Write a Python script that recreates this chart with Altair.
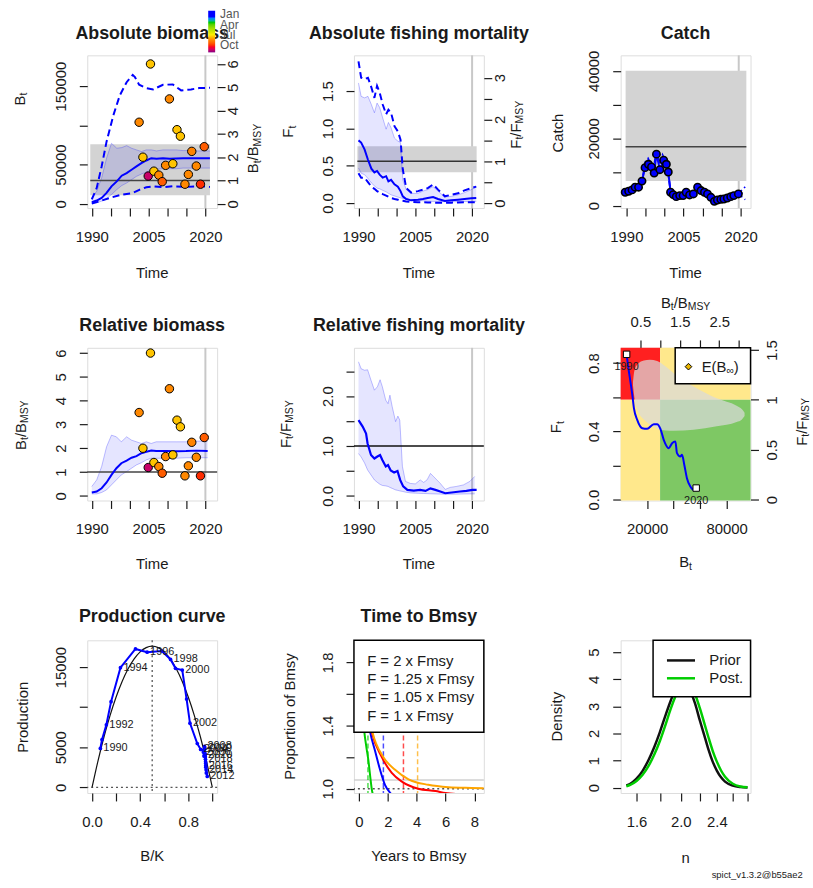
import altair as alt
import pandas as pd

FONT = "Liberation Sans"
TXT = "#1a1a1a"
W, H = 131, 154
BMSY = 29700
FMSY = 0.56

# ---------------- data ----------------
# Panel 1: absolute biomass (estimate, CI, wide dashed CI)
b_years = [1990, 1991.3, 1992.6, 1993.9, 1995.2, 1996.6, 1997.9, 1999.2, 2000.5, 2001.8, 2003.1,
           2004.4, 2005.7, 2007.1, 2008.8, 2010.6, 2012.3, 2014.1, 2015.8, 2017.6, 2019.3, 2021.2]
b_est = [2100, 4200, 7600, 13900, 22300, 28600, 35800, 39200, 43400, 47600, 51800,
         55200, 58100, 57300, 58100, 57300, 57700, 58100, 58100, 58100, 58100, 58100]
b_hi = [7600, 16000, 32900, 58100, 77100, 70800, 71600, 74100, 70800, 68700, 66600,
        68700, 68700, 67400, 68700, 68700, 68700, 67800, 67800, 67400, 67400, 67400]
b_lo = [840, 1260, 3400, 6700, 11800, 18100, 23200, 26500, 30800, 35000, 37900,
        40400, 43400, 44200, 44700, 44700, 44700, 45500, 45500, 45500, 45500, 45500]
bd_hi_years = [1990, 1991.3, 1992.6, 1993.9, 1995.7, 1997.4, 1999.2, 2000.8, 2001.4, 2002.5,
               2004.4, 2006.2, 2008.8, 2011.4, 2013.6, 2016.2, 2018.4, 2021.2]
bd_hi = [5500, 20200, 47600, 79200, 112900, 138200, 155000, 164300, 161400, 151700,
         147500, 145800, 151700, 152100, 144500, 145800, 147500, 147900]
bd_lo_years = [1990, 1992.2, 1994.8, 1997.4, 2000.9, 2002.7, 2004.4, 2006.2, 2008.8, 2011.4,
               2014.9, 2018.4, 2021.2]
bd_lo = [400, 3400, 7600, 11000, 13900, 18100, 21100, 22300, 21100, 22300, 21500, 22300, 21500]
bmsy_ci = [11000, 76000]

# Index observations (relative to Bmsy) and their season (fraction of year)
idx_t = [2002.5, 2003.5, 2004.9, 2005.5, 2006.4, 2007.7, 2008.6, 2009.5, 2010.5, 2011.4, 2012.5,
         2013.4, 2014.6, 2015.5, 2016.4, 2017.6, 2018.7, 2019.7]
idx_rel = [3.5, 2.0, 1.19, 6.0, 1.4, 1.23, 0.95, 1.65, 4.5, 1.72, 3.18,
           2.9, 0.84, 1.26, 2.25, 1.62, 0.84, 2.45]
idx_season = [0.62, 0.55, 0.87, 0.55, 0.55, 0.62, 0.7, 0.62, 0.62, 0.55, 0.55,
              0.55, 0.62, 0.62, 0.63, 0.62, 0.76, 0.7]

# Panel 2: absolute fishing mortality
f_years = [1990, 1990.7, 1991.6, 1992.5, 1993.4, 1994.2, 1994.9, 1995.6, 1996.4, 1997.3, 1997.9,
           1998.6, 1999.5, 2000.4, 2001.1, 2001.7, 2002.6, 2003.9, 2005.7, 2007.0, 2008.3, 2009.7,
           2011.0, 2012.8, 2014.5, 2016.3, 2018.0, 2019.8, 2021.1]
f_est = [0.84, 0.81, 0.72, 0.58, 0.46, 0.41, 0.43, 0.38, 0.34, 0.36, 0.29, 0.31, 0.25, 0.22, 0.16,
         0.09, 0.054, 0.036, 0.045, 0.054, 0.067, 0.08, 0.054, 0.027, 0.036, 0.045, 0.054, 0.063, 0.067]
f_hi = [1.61, 1.43, 1.41, 1.43, 1.32, 1.21, 1.34, 1.28, 1.14, 0.99, 1.08, 1.01, 0.87, 0.83, 0.81,
        0.31, 0.18, 0.13, 0.13, 0.16, 0.18, 0.22, 0.16, 0.08, 0.09, 0.11, 0.14, 0.18, 0.22]
f_lo = [0.47, 0.40, 0.38, 0.33, 0.27, 0.23, 0.2, 0.19, 0.17, 0.15, 0.13, 0.11, 0.095, 0.08, 0.07,
        0.06, 0.054, 0.045, 0.036, 0.03, 0.025, 0.022, 0.022, 0.018, 0.018, 0.018, 0.02, 0.022, 0.022]
fd_hi = [1.90, 1.68, 1.66, 1.68, 1.55, 1.41, 1.57, 1.48, 1.32, 1.19, 1.25, 1.21, 1.03, 0.96, 0.85,
         0.45, 0.2, 0.14, 0.16, 0.18, 0.2, 0.25, 0.18, 0.09, 0.11, 0.13, 0.17, 0.2, 0.22]
fd_lo = [0.40, 0.34, 0.34, 0.28, 0.22, 0.19, 0.16, 0.14, 0.12, 0.1, 0.085, 0.067, 0.055, 0.045, 0.035,
         0.03, 0.022, 0.015, 0.01, 0.01, 0.008, 0.005, 0.005, 0.005, 0.005, 0.008, 0.01, 0.01, 0.01]
fmsy_ci = [0.413, 0.762]

# Panel 3: catch
c_years = [1989.7, 1990.6, 1991.5, 1992.3, 1993.2, 1994.1, 1994.9, 1995.8, 1996.6, 1997.3, 1997.9,
           1998.8, 1999.8, 2000.5, 2001.0, 2001.6, 2002.3, 2003.1, 2004.0, 2004.9, 2005.7, 2006.6,
           2007.6, 2008.7, 2009.6, 2010.5, 2011.3, 2012.2, 2013.1, 2013.9, 2014.8, 2015.6, 2016.5,
           2017.4, 2018.2, 2019.4]
c_obs = [4000, 4300, 4700, 5500, 5500, 7300, 11300, 12300, 11500, 9700, 15300,
         10700, 13500, 12300, 10000, 4000, 3300, 2700, 3000, 3000, 4000, 3200,
         3500, 5500, 4500, 4000, 3500, 2500, 1300, 1700, 1900, 2000, 2300,
         2700, 3000, 3500]
cp_years = [1989.7, 1991.0, 1992.3, 1993.5, 1994.3, 1995.0, 1995.7, 1996.5, 1997.2, 1997.9, 1998.7,
            1999.5, 2000.3, 2001.0, 2001.6, 2002.5, 2004.0, 2005.7, 2007.0, 2008.7, 2010.5, 2012.0,
            2013.2, 2015.0, 2017.0, 2019.4, 2020.5]
c_pred = [3800, 4500, 5300, 6000, 8500, 13000, 14000, 12000, 11000, 16500, 12500,
          15000, 13000, 9500, 4500, 3000, 3000, 3800, 3500, 5200, 4000, 2800,
          1500, 2000, 2600, 3500, 3800]
cf_years = [2019.4, 2020.5, 2021.2]
cf_hi = [3600, 4800, 5600]
cf_lo = [3400, 2500, 1800]
msy = 17500
msy_ci = [7300, 40000]

# Panel 4: relative biomass
rb_years = [1990, 1991.3, 1992.6, 1993.9, 1995.2, 1996.5, 1997.8, 1999.2, 2000.5, 2001.8, 2003.1,
            2004.4, 2005.7, 2007.0, 2009.7, 2012.3, 2014.9, 2017.6, 2020.6]
rb_est = [0.14, 0.18, 0.32, 0.56, 0.88, 1.16, 1.37, 1.48, 1.6, 1.67, 1.79, 1.85, 1.9, 1.88, 1.88,
          1.87, 1.88, 1.9, 1.88]
rb_hi = [0.39, 0.67, 1.23, 2.06, 2.55, 2.48, 2.27, 2.48, 2.34, 2.27, 2.2, 2.27, 2.2, 2.27, 2.27,
         2.27, 2.27, 2.3, 2.3]
rb_lo = [0.08, 0.08, 0.14, 0.25, 0.46, 0.67, 0.88, 1.02, 1.16, 1.3, 1.39, 1.51, 1.58, 1.58, 1.58,
         1.58, 1.6, 1.6, 1.6]

# Panel 5: relative fishing mortality
rf_years = [1990, 1991.1, 1992, 1992.4, 1993.3, 1994.2, 1995, 1995.7, 1996.3, 1997.2, 1997.8, 1998.5,
            1999.4, 2000.3, 2001, 2001.8, 2002.9, 2004.6, 2006.3, 2007.7, 2009, 2010.3, 2011.6,
            2012.9, 2014.6, 2016.8, 2018.5, 2020.1, 2021.2]
rf_est = [1.52, 1.39, 1.25, 1.05, 0.82, 0.75, 0.79, 0.82, 0.72, 0.59, 0.62, 0.51, 0.47, 0.5, 0.32,
          0.19, 0.12, 0.107, 0.12, 0.1, 0.15, 0.12, 0.087, 0.053, 0.067, 0.087, 0.1, 0.12, 0.12]
rfc_years = [1990, 1990.7, 1991.6, 1992.4, 1993.3, 1994.2, 1995, 1995.7, 1996.3, 1997.2, 1997.8,
             1998.3, 1998.9, 1999.8, 2000.4, 2000.9, 2001.6, 2002.4, 2003.7, 2005, 2006.3, 2007.2,
             2008.1, 2009, 2009.8, 2010.7, 2011.6, 2012.9, 2014.2, 2015.9, 2017.7, 2019.4, 2020.7]
rf_hi = [2.69, 2.55, 2.52, 2.53, 2.32, 2.12, 2.19, 2.33, 2.19, 1.92, 1.85, 2.02, 1.79, 1.49, 1.6,
         1.52, 0.59, 0.29, 0.25, 0.24, 0.32, 0.27, 0.32, 0.45, 0.39, 0.32, 0.25, 0.13, 0.17, 0.19,
         0.22, 0.29, 0.39]
rf_lo = [0.85, 0.78, 0.66, 0.52, 0.42, 0.32, 0.27, 0.23, 0.21, 0.2, 0.19, 0.17, 0.15, 0.12, 0.11,
         0.1, 0.09, 0.075, 0.06, 0.055, 0.05, 0.048, 0.045, 0.042, 0.04, 0.038, 0.036, 0.033, 0.033,
         0.035, 0.038, 0.04, 0.04]

# Panel 6: Kobe plot
kb_B = [4500, 5500, 7000, 8800, 10000, 12500, 16300, 20000, 25000, 27500, 30000, 32500, 36300,
        38800, 41300, 42500, 45000, 46300, 48000, 50000, 52500, 55000, 57000]
kb_F = [0.852, 0.79, 0.711, 0.614, 0.536, 0.468, 0.419, 0.415, 0.442, 0.442, 0.415, 0.351, 0.302,
        0.331, 0.341, 0.273, 0.253, 0.263, 0.205, 0.126, 0.078, 0.058, 0.068]
kb_end_labels = ["1990", "2020"]
el_B = [9300, 10000, 11000, 13000, 17500, 22000, 27500, 34000, 40000, 55000, 72500, 87500, 91500, 93500]
el_hi = [0.69, 0.74, 0.77, 0.795, 0.815, 0.82, 0.813, 0.78, 0.741, 0.663, 0.594, 0.55, 0.53, 0.51]
el_lo = [0.67, 0.62, 0.57, 0.52, 0.47, 0.44, 0.415, 0.405, 0.404, 0.41, 0.43, 0.455, 0.47, 0.49]
KB_BMSY = 29750
KB_FMSY = 0.585

# Panel 7: production curve
pc_bk = [0, 0.05, 0.1, 0.15, 0.2, 0.25, 0.3, 0.35, 0.4, 0.45, 0.5, 0.55, 0.6, 0.65, 0.7, 0.75,
         0.8, 0.85, 0.9, 0.95, 1.0]
pc_p = [0, 3340, 6340, 8980, 11260, 13200, 14780, 16020, 16900, 17420, 17600, 17420, 16900, 16020,
        14780, 13200, 11260, 8980, 6340, 3340, 0]
pr_year = list(range(1990, 2021))
pr_bk = [0.069, 0.083, 0.119, 0.158, 0.236, 0.361, 0.458, 0.58, 0.653, 0.694, 0.75, 0.786, 0.814,
         0.875, 0.903, 0.93, 0.925, 0.93, 0.935, 0.94, 0.938, 0.945, 0.958, 0.95, 0.948, 0.946,
         0.945, 0.944, 0.943, 0.942, 0.94]
pr_p = [4860, 5970, 7810, 10690, 14920, 17260, 16850, 17000, 15950, 14840, 14630, 11020, 8010,
        5470, 4730, 4650, 4400, 3900, 5100, 4200, 4900, 3000, 1360, 1800, 2200, 2500, 2700, 3200,
        3500, 3800, 4000]

# Panel 8: time to Bmsy
tc_labels = ["F = 2 x Fmsy", "F = 1.25 x Fmsy", "F = 1.05 x Fmsy", "F = 1 x Fmsy"]
tc_green_t = [0, 0.2, 0.37, 0.5, 0.65, 0.8, 0.88, 1.0, 1.1]
tc_green = [1.9, 1.58, 1.36, 1.27, 1.18, 1.06, 1.0, 0.95, 0.92]
tc_blue_t = [0, 0.4, 0.77, 1.11, 1.46, 1.8, 2.2, 2.6]
tc_blue = [1.9, 1.58, 1.36, 1.24, 1.12, 1.025, 0.97, 0.94]
tc_red_t = [0, 0.45, 0.88, 1.58, 2.27, 2.97, 4.1, 5.3, 6.0, 7.0, 8.65]
tc_red = [1.9, 1.58, 1.36, 1.2, 1.1, 1.045, 1.0, 0.985, 0.973, 0.965, 0.96]
tc_orange_t = [0, 0.48, 0.93, 1.69, 2.5, 3.43, 4.8, 6.2, 7.8, 8.65]
tc_orange = [1.9, 1.58, 1.36, 1.2, 1.12, 1.06, 1.025, 1.01, 1.005, 1.003]
tc_vlines = [0.62, 1.69, 3.08, 4.06]

# Panel 9: prior / posterior of n
n_grid = [1.52, 1.55, 1.60, 1.65, 1.70, 1.75, 1.80, 1.85, 1.90, 1.95, 2.00, 2.05, 2.10, 2.15, 2.20,
          2.25, 2.30, 2.35, 2.40, 2.45, 2.50, 2.60, 2.70, 2.80]
n_prior = [0.08, 0.14, 0.33, 0.62, 1.02, 1.5, 2.05, 2.65, 3.2, 3.65, 3.9, 3.85, 3.55, 3.1, 2.5,
           1.95, 1.4, 0.95, 0.62, 0.38, 0.22, 0.07, 0.02, 0.005]
n_post = [0.05, 0.10, 0.24, 0.47, 0.80, 1.22, 1.72, 2.3, 2.9, 3.4, 3.8, 3.95, 3.8, 3.45, 2.95,
          2.4, 1.85, 1.35, 0.95, 0.63, 0.4, 0.14, 0.04, 0.01]

# ---------------- helpers ----------------
ONE = pd.DataFrame({"a": [0]})
CW = {'B': .667, 't': .278, '/': .278, 'M': .833, 'S': .667, 'Y': .667, 'F': .611, 'E': .667,
      '(': .333, ')': .333, '∞': .713, ' ': .278}


def tw(s, size):
    return sum(CW.get(c, .556) for c in s) * size


def rich(segs, cx, cy, size=15, angle=0, color=TXT, weight="normal", align="center"):
    if len(segs) == 1 and align == "center":
        return [alt.Chart(ONE).mark_text(text=segs[0][0], align="center", baseline="middle",
                                         angle=angle, font=FONT, fontSize=size, fontWeight=weight,
                                         color=color).encode(x=alt.value(cx), y=alt.value(cy))]
    sub = 0.7
    widths = [tw(t, size * (sub if s else 1)) for t, s in segs]
    pos = -sum(widths) / 2 if align == "center" else 0
    out = []
    for (t, s), w in zip(segs, widths):
        fs = size * (sub if s else 1)
        off = size * 0.3 if s else 0
        if angle == 0:
            x, y = cx + pos, cy + off
        else:
            x, y = cx + off, cy - pos
        out.append(alt.Chart(ONE).mark_text(text=t, align="left", baseline="middle", angle=angle,
                                            font=FONT, fontSize=fs, fontWeight=weight, color=color)
                   .encode(x=alt.value(x), y=alt.value(y)))
        pos += w
    return out


def title(t, cy=-21.5):
    return rich([(t, False)], W / 2, cy, size=18, weight="bold")


BT = [("B", False), ("t", True)]
BREL = [("B", False), ("t", True), ("/B", False), ("MSY", True)]
FT = [("F", False), ("t", True)]
FREL = [("F", False), ("t", True), ("/F", False), ("MSY", True)]


def lab_expr(pairs):
    parts = [f"abs(datum.value-({v}))<1e-6?'{l}'" for v, l in pairs]
    return ":".join(parts) + ":''"


def ax(orient, ticks, pairs, pad=None):
    d = dict(orient=orient, values=ticks, labelExpr=lab_expr(pairs), title=None, grid=False,
             domain=False, tickSize=8, tickWidth=1.2, tickColor=TXT, labelFont=FONT,
             labelFontSize=15, labelColor=TXT, labelOverlap=False, labelFlush=False, labelBound=False)
    if orient in ("left", "right"):
        d.update(labelAngle=270, labelAlign="center", labelBaseline="alphabetic",
                 labelPadding=pad if pad is not None else (14 if orient == "left" else 12.8))
    elif orient == "bottom":
        d.update(labelAngle=0, labelAlign="center", labelBaseline="top",
                 labelPadding=pad if pad is not None else 13.5)
    else:
        d.update(labelAngle=0, labelAlign="center", labelBaseline="alphabetic",
                 labelPadding=pad if pad is not None else 13.6)
    return alt.Axis(**d)


def sc(dom, **kw):
    return alt.Scale(domain=dom, nice=False, zero=False, **kw)


def D(**cols):
    return pd.DataFrame(cols)


TIME_TICKS = [1990, 1995, 2000, 2005, 2010, 2015, 2020]
TIME_AX = ax("bottom", TIME_TICKS, [(1990, "1990"), (2005, "2005"), (2020, "2020")])
XT = alt.X("x:Q", scale=sc([1988.8, 2023.1]), axis=TIME_AX)

BAND = "#d3d3d3"
CIFILL = "#0000ff"

# colour scale for season of index observations
SEASON_SCALE = alt.Scale(domain=[-0.93, -0.78, -0.62, -0.5, -0.2, -0.05, 0.09],
                         range=["#800080", "#ff0000", "#ff8800", "#ffee00", "#00cc00", "#0000ff", "#0000ff"])
SEASON_LEG = alt.Legend(orient="none", legendX=122, legendY=-45, direction="vertical", title=None,
                        gradientLength=42, gradientThickness=7, values=[0, -0.25, -0.5, -0.75],
                        labelExpr=lab_expr([(0, "Jan"), (-0.25, "Apr"), (-0.5, "Jul"), (-0.75, "Oct")]),
                        labelFont=FONT, labelFontSize=12, labelColor="#555", labelOffset=5,
                        gradientStrokeWidth=0, labelOverlap=False)
COLOR = alt.Color("mneg:Q", scale=SEASON_SCALE, legend=SEASON_LEG)


def idx_points(Y):
    return (alt.Chart(D(x=idx_t, y=idx_rel, m=idx_season))
            .transform_calculate(mneg="-datum.m")
            .mark_circle(size=72, stroke="black", strokeWidth=1, opacity=1)
            .encode(x=XT, y=Y, color=COLOR))


def vline(xv, color="#c8c8c8", X=XT, width=2):
    return alt.Chart(D(x=[xv])).mark_rule(color=color, strokeWidth=width).encode(x=X)


# ---------------- Panel 1: Absolute biomass ----------------
dom1 = [-5400, 189200]
Y1 = alt.Y("y:Q", scale=sc(dom1), axis=ax("left", [0, 50000, 100000, 150000],
                                          [(0, "0"), (50000, "50000"), (150000, "150000")]))
Y1R = alt.Y("y:Q", scale=sc([dom1[0] / BMSY, dom1[1] / BMSY]),
            axis=ax("right", [0, 1, 2, 3, 4, 5, 6], [(i, str(i)) for i in range(7)]))
p1_left = alt.layer(
    vline(2020),
    alt.Chart(D(x=[1989.6], x2=[2021.2], y=[bmsy_ci[0]], y2=[bmsy_ci[1]])).mark_rect(color=BAND)
    .encode(x=XT, x2="x2:Q", y=Y1, y2="y2:Q"),
    alt.Chart(D(x=b_years, y=b_lo, y2=b_hi)).mark_area(color=CIFILL, opacity=0.1)
    .encode(x=XT, y=Y1, y2="y2:Q"),
    alt.Chart(D(x=b_years, y=b_hi)).mark_line(color="#0000ff", opacity=0.25, strokeWidth=1).encode(x=XT, y=Y1),
    alt.Chart(D(x=b_years, y=b_lo)).mark_line(color="#0000ff", opacity=0.25, strokeWidth=1).encode(x=XT, y=Y1),
    alt.Chart(D(x=[1989.6, 2021.2], y=[BMSY, BMSY])).mark_line(color="#444", strokeWidth=1.6).encode(x=XT, y=Y1),
    alt.Chart(D(x=bd_hi_years, y=bd_hi)).mark_line(color="#0000ff", strokeWidth=2, strokeDash=[7, 4]).encode(x=XT, y=Y1),
    alt.Chart(D(x=bd_lo_years, y=bd_lo)).mark_line(color="#0000ff", strokeWidth=2, strokeDash=[7, 4]).encode(x=XT, y=Y1),
    alt.Chart(D(x=b_years, y=b_est)).mark_line(color="#0000ff", strokeWidth=2).encode(x=XT, y=Y1),
)
p1_right = alt.layer(idx_points(Y1R))
p1 = alt.layer(p1_left, p1_right, *title("Absolute biomass"),
               *rich(BT, -68, 44, angle=270), *rich(BREL, W + 36.7, 94, angle=270),
               *rich([("Time", False)], W / 2, 220)
               ).resolve_scale(y="independent").properties(width=W, height=H)

# ---------------- Panel 2: Absolute fishing mortality ----------------
dom2 = [-0.067, 1.98]
Y2 = alt.Y("y:Q", scale=sc(dom2), axis=ax("left", [0, 0.5, 1, 1.5],
                                          [(0, "0.0"), (0.5, "0.5"), (1, "1.0"), (1.5, "1.5")]))
Y2R = alt.Y("y:Q", scale=sc([dom2[0] / FMSY, dom2[1] / FMSY]),
            axis=ax("right", [0, 0.5, 1, 1.5, 2, 2.5, 3], [(0, "0"), (1, "1"), (2, "2"), (3, "3")]))
p2_left = alt.layer(
    vline(2020),
    alt.Chart(D(x=[1989.7], x2=[2021.2], y=[fmsy_ci[0]], y2=[fmsy_ci[1]])).mark_rect(color=BAND)
    .encode(x=XT, x2="x2:Q", y=Y2, y2="y2:Q"),
    alt.Chart(D(x=f_years, y=f_lo, y2=f_hi)).mark_area(color=CIFILL, opacity=0.1).encode(x=XT, y=Y2, y2="y2:Q"),
    alt.Chart(D(x=f_years, y=f_hi)).mark_line(color="#0000ff", opacity=0.25, strokeWidth=1).encode(x=XT, y=Y2),
    alt.Chart(D(x=f_years, y=f_lo)).mark_line(color="#0000ff", opacity=0.25, strokeWidth=1).encode(x=XT, y=Y2),
    alt.Chart(D(x=[1989.7, 2021.2], y=[FMSY, FMSY])).mark_line(color="#333", strokeWidth=1.6).encode(x=XT, y=Y2),
    alt.Chart(D(x=f_years, y=fd_hi)).mark_line(color="#0000ff", strokeWidth=2, strokeDash=[7, 4]).encode(x=XT, y=Y2),
    alt.Chart(D(x=f_years, y=fd_lo)).mark_line(color="#0000ff", strokeWidth=2, strokeDash=[7, 4]).encode(x=XT, y=Y2),
    alt.Chart(D(x=f_years, y=f_est)).mark_line(color="#0000ff", strokeWidth=2).encode(x=XT, y=Y2),
)
p2_right = alt.Chart(D(x=[2000], y=[0])).mark_point(opacity=0).encode(x=XT, y=Y2R)
p2 = alt.layer(p2_left, p2_right, *title("Absolute fishing mortality"),
               *rich(FT, -66, 77, angle=270), *rich(FREL, W + 32.3, 70, angle=270),
               *rich([("Time", False)], W / 2, 220)
               ).resolve_scale(y="independent").properties(width=W, height=H)

# ---------------- Panel 3: Catch ----------------
XC = alt.X("x:Q", scale=sc([1988.5, 2022.6]), axis=TIME_AX)
Y3 = alt.Y("y:Q", scale=sc([-680, 44600]), axis=ax("left", [0, 10000, 20000, 30000, 40000],
                                                   [(0, "0"), (20000, "20000"), (40000, "40000")]))
p3 = alt.layer(
    vline(2019.5, X=XC),
    alt.Chart(D(x=[1989.8], x2=[2021.5], y=[msy_ci[0]], y2=[msy_ci[1]])).mark_rect(color=BAND)
    .encode(x=XC, x2="x2:Q", y=Y3, y2="y2:Q"),
    alt.Chart(D(x=[1989.8, 2021.5], y=[msy, msy])).mark_line(color="#444", strokeWidth=1.6).encode(x=XC, y=Y3),
    alt.Chart(D(x=cp_years, y=c_pred)).mark_line(color="#0000ff", strokeWidth=2, strokeDash=[6, 3]).encode(x=XC, y=Y3),
    alt.Chart(D(x=cf_years, y=cf_hi)).mark_line(color="#0000ff", strokeWidth=1.5, strokeDash=[5, 3]).encode(x=XC, y=Y3),
    alt.Chart(D(x=cf_years, y=cf_lo)).mark_line(color="#0000ff", strokeWidth=1.5, strokeDash=[5, 3]).encode(x=XC, y=Y3),
    alt.Chart(D(x=c_years, y=c_obs)).mark_line(color="#0000ff", strokeWidth=2).encode(x=XC, y=Y3),
    alt.Chart(D(x=c_years, y=c_obs)).mark_circle(size=55, color="#0000ff", stroke="black", strokeWidth=1.6, opacity=1)
    .encode(x=XC, y=Y3),
    *title("Catch"), *rich([("Catch", False)], -63.3, 78.4, angle=270),
    *rich([("Time", False)], W / 2, 220)
).properties(width=W, height=H)

# ---------------- Panel 4: Relative biomass ----------------
Y4 = alt.Y("y:Q", scale=sc([-0.197, 6.22]), axis=ax("left", [0, 1, 2, 3, 4, 5, 6], [(i, str(i)) for i in range(7)]))
p4 = alt.layer(
    vline(2020),
    alt.Chart(D(x=rb_years, y=rb_lo, y2=rb_hi)).mark_area(color=CIFILL, opacity=0.1).encode(x=XT, y=Y4, y2="y2:Q"),
    alt.Chart(D(x=rb_years, y=rb_hi)).mark_line(color="#0000ff", opacity=0.25, strokeWidth=1).encode(x=XT, y=Y4),
    alt.Chart(D(x=rb_years, y=rb_lo)).mark_line(color="#0000ff", opacity=0.25, strokeWidth=1).encode(x=XT, y=Y4),
    alt.Chart(D(y=[1])).mark_rule(color="#444", strokeWidth=1.6).encode(y=Y4),
    alt.Chart(D(x=rb_years, y=rb_est)).mark_line(color="#0000ff", strokeWidth=2).encode(x=XT, y=Y4),
    idx_points(Y4),
    *title("Relative biomass", -22), *rich(BREL, -66.8, 78, angle=270),
    *rich([("Time", False)], W / 2, 218)
).properties(width=W, height=H)

# ---------------- Panel 5: Relative fishing mortality ----------------
Y5 = alt.Y("y:Q", scale=sc([-0.093, 2.97]), axis=ax("left", [0, 0.5, 1, 1.5, 2, 2.5],
                                                    [(0, "0.0"), (1, "1.0"), (2, "2.0")]))
p5 = alt.layer(
    vline(2020),
    alt.Chart(D(x=rfc_years, y=rf_lo, y2=rf_hi)).mark_area(color=CIFILL, opacity=0.1).encode(x=XT, y=Y5, y2="y2:Q"),
    alt.Chart(D(x=rfc_years, y=rf_hi)).mark_line(color="#0000ff", opacity=0.25, strokeWidth=1).encode(x=XT, y=Y5),
    alt.Chart(D(x=rfc_years, y=rf_lo)).mark_line(color="#0000ff", opacity=0.25, strokeWidth=1).encode(x=XT, y=Y5),
    alt.Chart(D(y=[1])).mark_rule(color="#111", strokeWidth=1.4).encode(y=Y5),
    alt.Chart(D(x=rf_years, y=rf_est)).mark_line(color="#0000ff", strokeWidth=2.2).encode(x=XT, y=Y5),
    *title("Relative fishing mortality", -22), *rich(FREL, -68.5, 77, angle=270),
    *rich([("Time", False)], W / 2, 218)
).properties(width=W, height=H)

# ---------------- Panel 6: Kobe ----------------
kdx = [0, 98000]
kdy = [-0.005, 0.89]
X6 = alt.X("x:Q", scale=sc(kdx), axis=ax("bottom", [20000, 40000, 60000, 80000],
                                         [(20000, "20000"), (80000, "80000")]))
Y6 = alt.Y("y:Q", scale=sc(kdy), axis=ax("left", [0, 0.2, 0.4, 0.6, 0.8],
                                         [(0, "0.0"), (0.4, "0.4"), (0.8, "0.8")]))
X6T = alt.X("x:Q", scale=sc([kdx[0] / KB_BMSY, kdx[1] / KB_BMSY]),
            axis=ax("top", [0.5, 1, 1.5, 2, 2.5, 3], [(0.5, "0.5"), (1.5, "1.5"), (2.5, "2.5")]))
Y6R = alt.Y("y:Q", scale=sc([kdy[0] / KB_FMSY, kdy[1] / KB_FMSY]),
            axis=ax("right", [0, 0.5, 1, 1.5], [(0, "0"), (0.5, "0.5"), (1, "1"), (1.5, "1.5")], pad=18))
quad = D(x=[0, KB_BMSY, 0, KB_BMSY], x2=[KB_BMSY, kdx[1], KB_BMSY, kdx[1]],
         y=[KB_FMSY, KB_FMSY, kdy[0], kdy[0]], y2=[kdy[1], kdy[1], KB_FMSY, KB_FMSY],
         c=["#ff2020", "#ffe88c", "#ffe88c", "#7ec864"])
p6_left = alt.layer(
    alt.Chart(quad).mark_rect().encode(x=X6, x2="x2:Q", y=Y6, y2="y2:Q", color=alt.Color("c:N", scale=None)),
    alt.Chart(D(x=el_B, y=el_lo, y2=el_hi)).mark_area(color="#d9d9d9", opacity=0.72, interpolate="monotone")
    .encode(x=X6, y=Y6, y2="y2:Q"),
    alt.Chart(D(x=kb_B, y=kb_F, o=list(range(len(kb_B))))).mark_line(color="#0000ff", strokeWidth=2, interpolate="monotone")
    .encode(x=X6, y=Y6, order="o:Q"),
    alt.Chart(D(x=[kb_B[0], kb_B[-1]], y=[kb_F[0], kb_F[-1]])).mark_square(size=42, fill="white", stroke="black", strokeWidth=1, opacity=1)
    .encode(x=X6, y=Y6),
    alt.Chart(D(x=[kb_B[0], kb_B[-1]], y=[kb_F[0], kb_F[-1]], t=kb_end_labels)).mark_text(fontSize=11, font=FONT, color=TXT, dy=13)
    .encode(x=X6, y=Y6, text="t:N"),
)
p6_right = alt.Chart(D(x=[1], y=[0])).mark_point(opacity=0).encode(x=X6T, y=Y6R)
p6 = alt.layer(
    p6_left, p6_right,
    alt.Chart(ONE).mark_rect(fill="white", stroke="black", strokeWidth=1.5)
    .encode(x=alt.value(55), x2=alt.value(W), y=alt.value(0), y2=alt.value(36.3)),
    alt.Chart(ONE).mark_point(shape="diamond", filled=True, fill="#e8b400", stroke="black", strokeWidth=1, size=45, opacity=1)
    .encode(x=alt.value(68.4), y=alt.value(19)),
    *rich([("E(B", False), ("∞", True), (")", False)], 81.7, 19, align="left"),
    *rich(BREL, W / 2, -45.3), *rich(FT, -65, 80, angle=270),
    *rich(FREL, W + 51.7, 74.7, angle=270), *rich(BT, W / 2, 216.3)
).resolve_scale(x="independent", y="independent").properties(width=W, height=H)

# ---------------- Panel 7: Production curve ----------------
X7 = alt.X("x:Q", scale=sc([-0.04, 1.04]), axis=ax("bottom", [0, 0.2, 0.4, 0.6, 0.8, 1.0],
                                                   [(0, "0.0"), (0.4, "0.4"), (0.8, "0.8")]))
Y7 = alt.Y("y:Q", scale=sc([-700, 18335]), axis=ax("left", [0, 5000, 10000, 15000],
                                                   [(0, "0"), (5000, "5000"), (15000, "15000")]))
prod = D(x=pr_bk, y=pr_p, yr=pr_year)
p7 = alt.layer(
    alt.Chart(D(x=[0.5])).mark_rule(color="#555", strokeWidth=1.3, strokeDash=[2, 3]).encode(x=X7),
    alt.Chart(D(y=[0])).mark_rule(color="#555", strokeWidth=1.3, strokeDash=[2, 3]).encode(y=Y7),
    alt.Chart(D(x=pc_bk, y=pc_p)).mark_line(color="#111", strokeWidth=1.2, interpolate="monotone").encode(x=X7, y=Y7),
    alt.Chart(prod).mark_line(color="#0000ff", strokeWidth=2).encode(x=X7, y=Y7, order="yr:Q"),
    alt.Chart(prod).mark_circle(color="#0000ff", size=14, opacity=1).encode(x=X7, y=Y7),
    alt.Chart(prod).transform_filter("datum.yr % 2 == 0").mark_text(align="left", baseline="middle", dx=3,
                                                                    fontSize=11, font=FONT, color=TXT)
    .encode(x=X7, y=Y7, text="yr:N"),
    *title("Production curve", -23), *rich([("Production", False)], -64.8, 77.7, angle=270),
    *rich([("B/K", False)], W / 2, 217.7)
).properties(width=W, height=H)

# ---------------- Panel 8: Time to Bmsy ----------------
X8 = alt.X("x:Q", scale=sc([-0.35, 8.65]), axis=ax("bottom", [0, 2, 4, 6, 8], [(v, str(v)) for v in [0, 2, 4, 6, 8]]))
Y8 = alt.Y("y:Q", scale=sc([0.973, 1.94]), axis=ax("left", [1.0, 1.2, 1.4, 1.6, 1.8],
                                                   [(1.0, "1.0"), (1.4, "1.4"), (1.8, "1.8")]))
TC_COLS = ["#00cd00", "#0000ff", "#ff0000", "#ffa500"]
curves = [(tc_green_t, tc_green), (tc_blue_t, tc_blue), (tc_red_t, tc_red), (tc_orange_t, tc_orange)]
p8_layers = [
    alt.Chart(D(y=[1.056])).mark_rule(color="#d0d0d0", strokeWidth=1.5).encode(y=Y8),
    alt.Chart(D(y=[1.0])).mark_rule(color="#555", strokeWidth=1.3, strokeDash=[2, 3]).encode(y=Y8),
]
for xv, col in zip(tc_vlines, TC_COLS):
    p8_layers.append(alt.Chart(D(x=[xv])).mark_rule(color=col, strokeWidth=1.5, strokeDash=[5, 3], opacity=0.7).encode(x=X8))
for (tt, vv), col in zip(curves, TC_COLS):
    p8_layers.append(alt.Chart(D(x=tt, y=vv)).mark_line(color=col, strokeWidth=2, clip=True, interpolate="monotone")
                     .encode(x=X8, y=Y8))
p8_layers.append(alt.Chart(ONE).mark_rect(fill="white", stroke="black", strokeWidth=1.5)
                 .encode(x=alt.value(0), x2=alt.value(W), y=alt.value(0), y2=alt.value(92.7)))
for i, t in enumerate(tc_labels):
    p8_layers.append(alt.Chart(ONE).mark_text(text=t, align="left", baseline="middle", font=FONT, fontSize=15, color=TXT)
                     .encode(x=alt.value(13.3), y=alt.value(21 + i * 18.3)))
p8 = alt.layer(*p8_layers, *title("Time to Bmsy", -23),
               *rich([("Proportion of Bmsy", False)], -64.2, 76.8, angle=270),
               *rich([("Years to Bmsy", False)], W / 2, 217.7)).properties(width=W, height=H)

# ---------------- Panel 9: n prior / posterior ----------------
X9 = alt.X("x:Q", scale=sc([1.477, 2.843], type="log"),
           axis=ax("bottom", [1.6, 1.8, 2.0, 2.2, 2.4, 2.6, 2.8], [(1.6, "1.6"), (2.0, "2.0"), (2.4, "2.4")]))
Y9 = alt.Y("y:Q", scale=sc([-0.2, 5.44]), axis=ax("left", [0, 1, 2, 3, 4, 5], [(i, str(i)) for i in range(6)]))
p9 = alt.layer(
    alt.Chart(D(x=n_grid, y=n_prior)).mark_line(color="#111", strokeWidth=2.5, interpolate="monotone", clip=True).encode(x=X9, y=Y9),
    alt.Chart(D(x=n_grid, y=n_post)).mark_line(color="#00cd00", strokeWidth=2.5, interpolate="monotone", clip=True).encode(x=X9, y=Y9),
    alt.Chart(ONE).mark_rect(fill="white", stroke="black", strokeWidth=1.5)
    .encode(x=alt.value(32.7), x2=alt.value(W), y=alt.value(0), y2=alt.value(57)),
    alt.Chart(ONE).mark_rule(color="#111", strokeWidth=2.5).encode(x=alt.value(46.7), x2=alt.value(75), y=alt.value(20.3)),
    alt.Chart(ONE).mark_rule(color="#00cd00", strokeWidth=2.5).encode(x=alt.value(46.7), x2=alt.value(75), y=alt.value(38.3)),
    alt.Chart(ONE).mark_text(text="Prior", align="left", baseline="middle", font=FONT, fontSize=15, color=TXT)
    .encode(x=alt.value(89.4), y=alt.value(20.3)),
    alt.Chart(ONE).mark_text(text="Post.", align="left", baseline="middle", font=FONT, fontSize=15, color=TXT)
    .encode(x=alt.value(89.4), y=alt.value(38.3)),
    alt.Chart(ONE).mark_text(text="spict_v1.3.2@b55ae2", align="right", baseline="middle", font=FONT, fontSize=9.5, color=TXT)
    .encode(x=alt.value(183.7), y=alt.value(237)),
    *rich([("Density", False)], -64.3, 77, angle=270),
    *rich([("n", False)], W / 2, 219.3)
).properties(width=W, height=H)

chart = alt.concat(p1, p2, p3, p4, p5, p6, p7, p8, p9, columns=3,
                   spacing={"row": 141, "column": 138}, bounds="flush").properties(
    padding={"left": 12, "top": 7, "right": 0, "bottom": 4}
).configure_view(stroke="black", strokeWidth=1.5).configure(font=FONT, background="white")

chart.save("out.html", embed_options={"renderer": "svg", "actions": False})
